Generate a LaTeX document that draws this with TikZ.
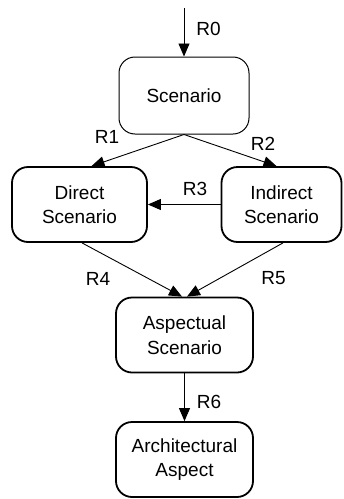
\documentclass[tikz,border=0pt]{standalone}
\usepackage{fontspec}
\setmainfont{Liberation Sans}
\usetikzlibrary{arrows.meta,calc}
\begin{document}
\begin{tikzpicture}[x=1pt, y=1pt,
    font=\fontsize{19}{24.5}\selectfont,
    box/.style={draw, black, rounded corners=16pt, align=center, line width=1.8pt,
      minimum width=137pt, minimum height=75pt, inner sep=0pt},
    rel/.style={draw, line width=0.9pt, -{Triangle[length=13pt,width=11pt]}}]
  \useasboundingbox (0,0) rectangle (344,-499);
  \node[box, line width=1pt, minimum width=130pt, minimum height=77pt] (scen) at (184,-95.5) {Scenario};
  \node[box, minimum width=135pt] (direct) at (79.5,-204.5) {Direct\\Scenario};
  \node[box, minimum width=120pt] (indirect) at (281.5,-204.5) {Indirect\\Scenario};
  \node[box] (aspect) at (184.5,-335) {Aspectual\\Scenario};
  \node[box] (arch) at (184.5,-459.5) {Architectural\\Aspect};
  \coordinate (top) at (184,-8);
  \draw[rel] (top) -- (scen.north);
  \draw[rel] (scen.south) -- ($(direct.north)+(12,0)$);
  \draw[rel] (scen.south) -- ($(indirect.north)+(-5,0)$);
  \draw[rel] (indirect.west) -- (direct.east);
  \draw[rel] ($(direct.south)+(2.5,0)$) -- ($(aspect.north)+(-2.5,0)$);
  \draw[rel] ($(indirect.south)+(1.5,0)$) -- ($(aspect.north)+(2.5,0)$);
  \draw[rel] (aspect.south) -- (arch.north);
  \node (r0) at (208.5,-28.5) {R0};
  \node (r1) at (107,-137) {R1};
  \node (r2) at (263,-143.5) {R2};
  \node (r3) at (195,-188.5) {R3};
  \node (r4) at (98,-278.5) {R4};
  \node (r5) at (273.5,-278.5) {R5};
  \node (r6) at (209,-401.5) {R6};
\end{tikzpicture}
\end{document}
